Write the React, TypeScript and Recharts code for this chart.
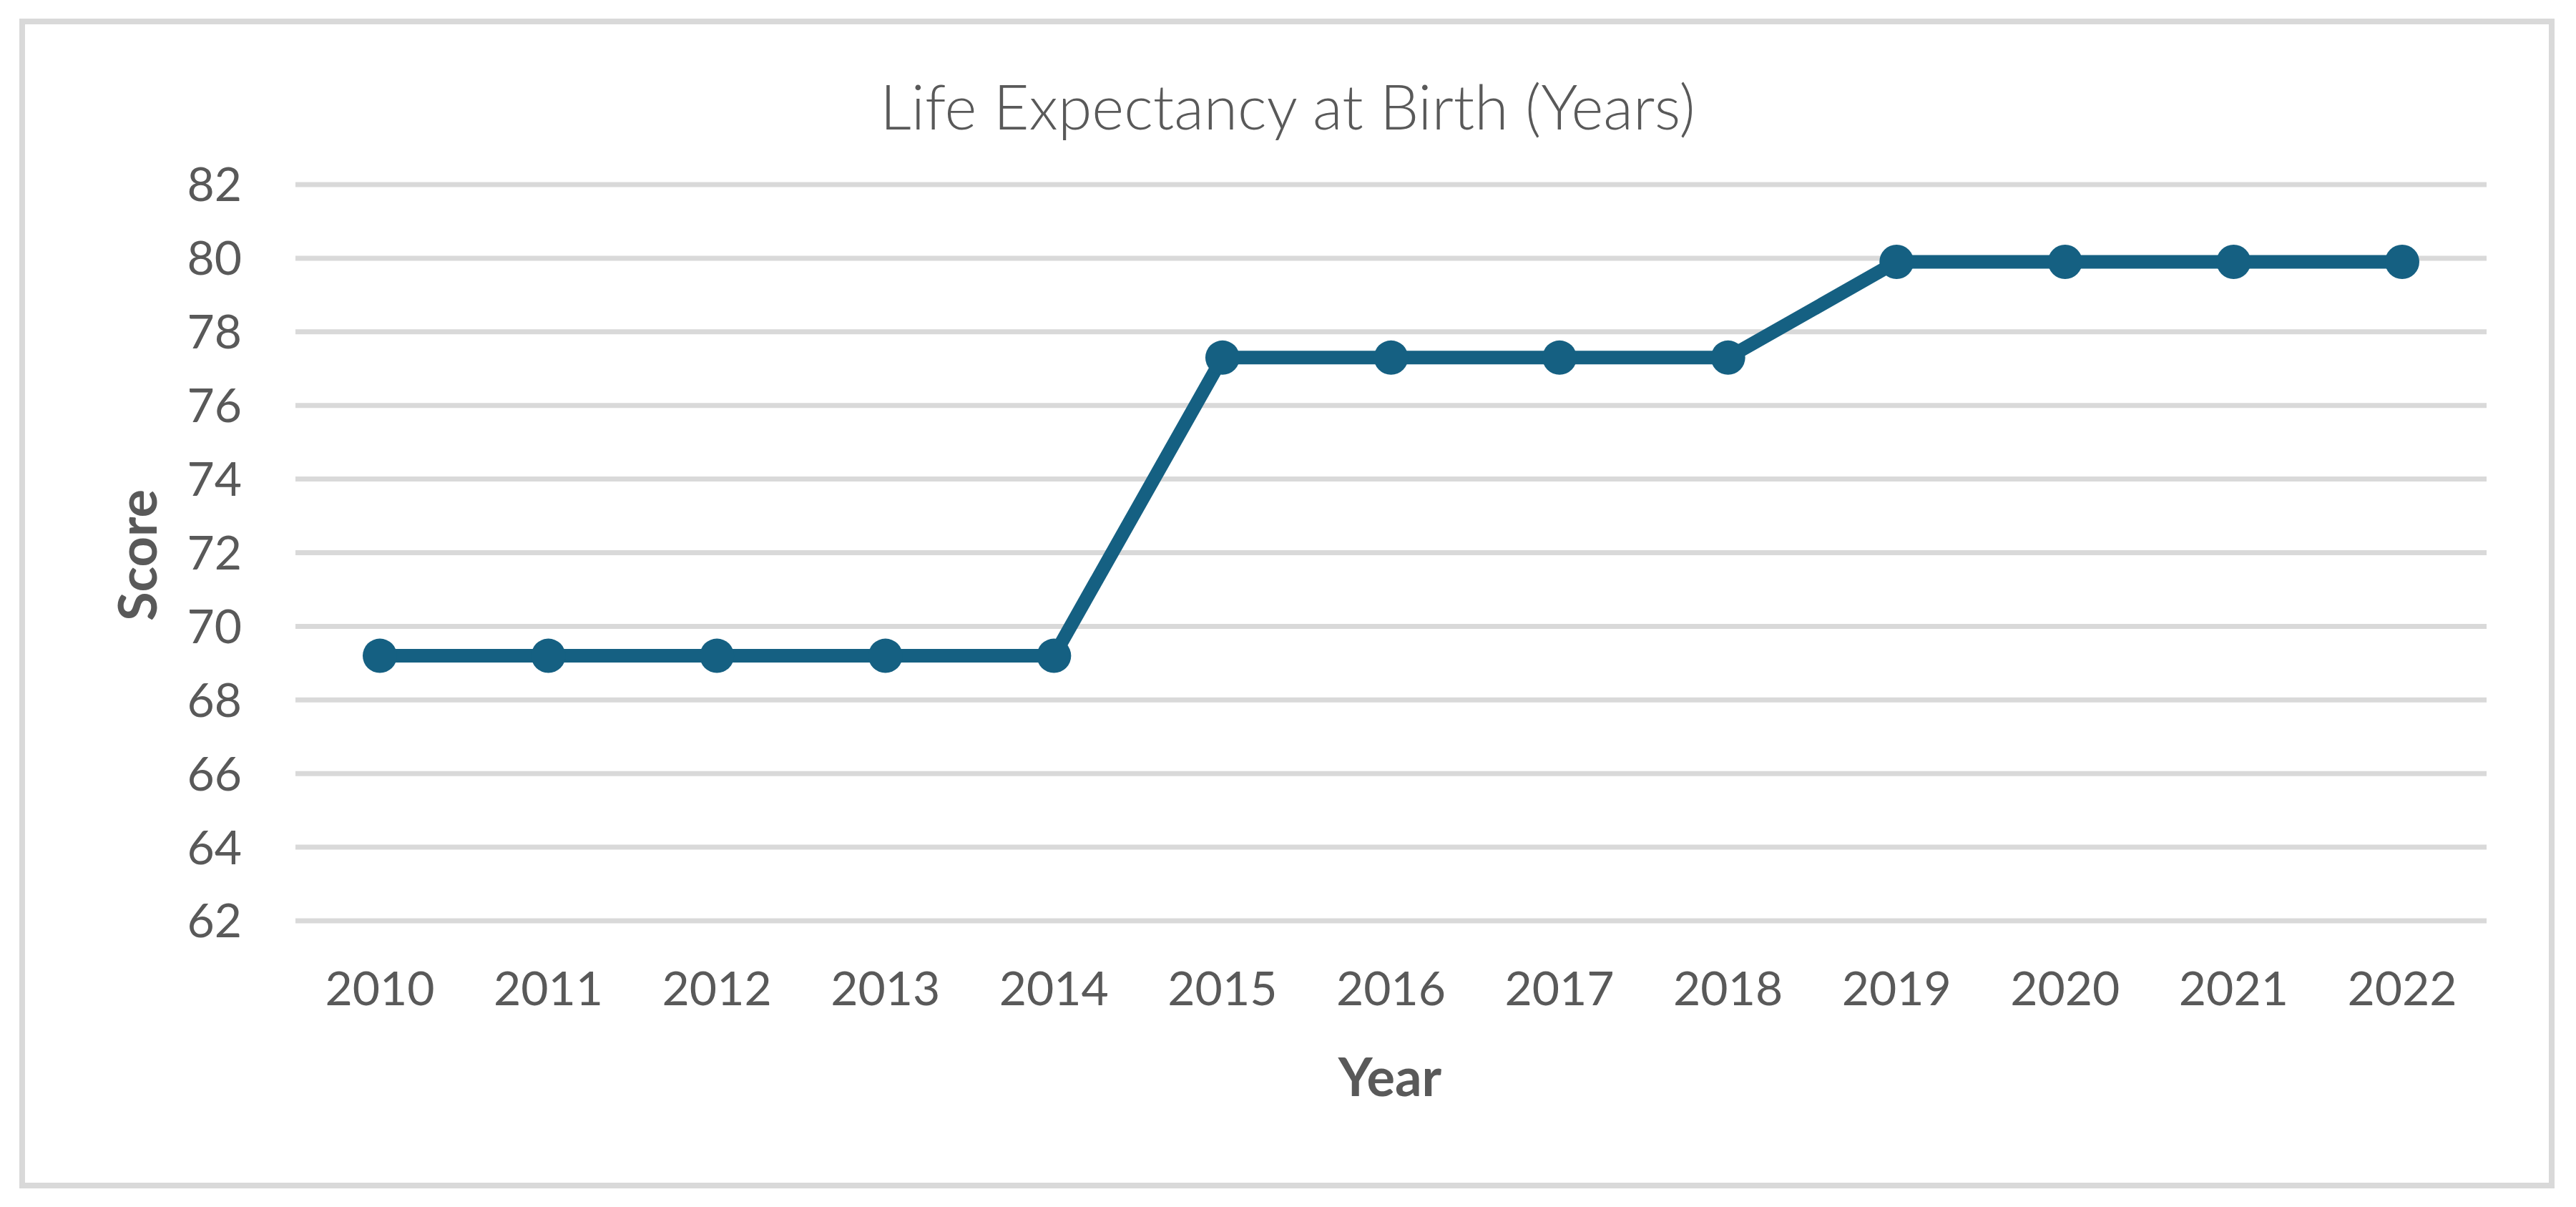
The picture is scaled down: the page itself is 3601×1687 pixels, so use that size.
import React from "react"
import { LineChart, Line, XAxis, YAxis, CartesianGrid } from "recharts"

const YEARS = ["2010", "2011", "2012", "2013", "2014", "2015", "2016", "2017", "2018", "2019", "2020", "2021", "2022"]
const LIFE_EXPECTANCY = [69.2, 69.2, 69.2, 69.2, 69.2, 77.3, 77.3, 77.3, 77.3, 79.9, 79.9, 79.9, 79.9]
const Y_TICKS = [62, 64, 66, 68, 70, 72, 74, 76, 78, 80, 82]

const W = 3601
const H = 1687
const FONT = "Lato, 'Open Sans', sans-serif"
const TEXT = "#595959"
const BLUE = "#156082"

const data = YEARS.map((year, i) => ({ year, value: LIFE_EXPECTANCY[i] }))

export default function App() {
  return (
    <div style={{ position: "absolute", left: 0, top: 0, width: W, height: H, background: "#fff" }}>
      <LineChart
        width={W}
        height={H}
        data={data}
        margin={{ top: 258, right: 125, bottom: 250, left: 213 }}
      >
        <CartesianGrid vertical={false} stroke="#d9d9d9" strokeWidth={7} />
        <XAxis
          dataKey="year"
          height={150}
          axisLine={false}
          tickLine={false}
          tickSize={0}
          tickMargin={71}
          padding={{ left: 118, right: 118 }}
          interval={0}
          tick={{ fontSize: 66, fontFamily: FONT, fill: TEXT }}
        />
        <YAxis
          width={200}
          domain={[62, 82]}
          ticks={Y_TICKS}
          axisLine={false}
          tickLine={false}
          tickSize={0}
          tickMargin={75}
          interval={0}
          tick={{ fontSize: 66, fontFamily: FONT, fill: TEXT }}
        />
        <Line
          type="linear"
          dataKey="value"
          stroke={BLUE}
          strokeWidth={19}
          dot={{ r: 24, fill: BLUE, stroke: "none" }}
          activeDot={false}
          isAnimationActive={false}
        />
      </LineChart>

      {/* frame, title and axis titles */}
      <svg
        width={W}
        height={H}
        style={{ position: "absolute", left: 0, top: 0, pointerEvents: "none" }}
      >
        <rect x={31} y={30} width={3536} height={1627} fill="none" stroke="#d9d9d9" strokeWidth={8} />
        <text x={1800} y={181} textAnchor="middle" fontFamily={FONT} fontWeight={300} fontSize={86} fill={TEXT}>
          Life Expectancy at Birth (Years)
        </text>
        <text x={1943} y={1532} textAnchor="middle" fontFamily={FONT} fontWeight={700} fontSize={74} fill={TEXT}>
          Year
        </text>
        <text
          x={219}
          y={776}
          transform="rotate(-90 219 776)"
          textAnchor="middle"
          fontFamily={FONT}
          fontWeight={700}
          fontSize={74}
          fill={TEXT}
        >
          Score
        </text>
      </svg>
    </div>
  )
}
